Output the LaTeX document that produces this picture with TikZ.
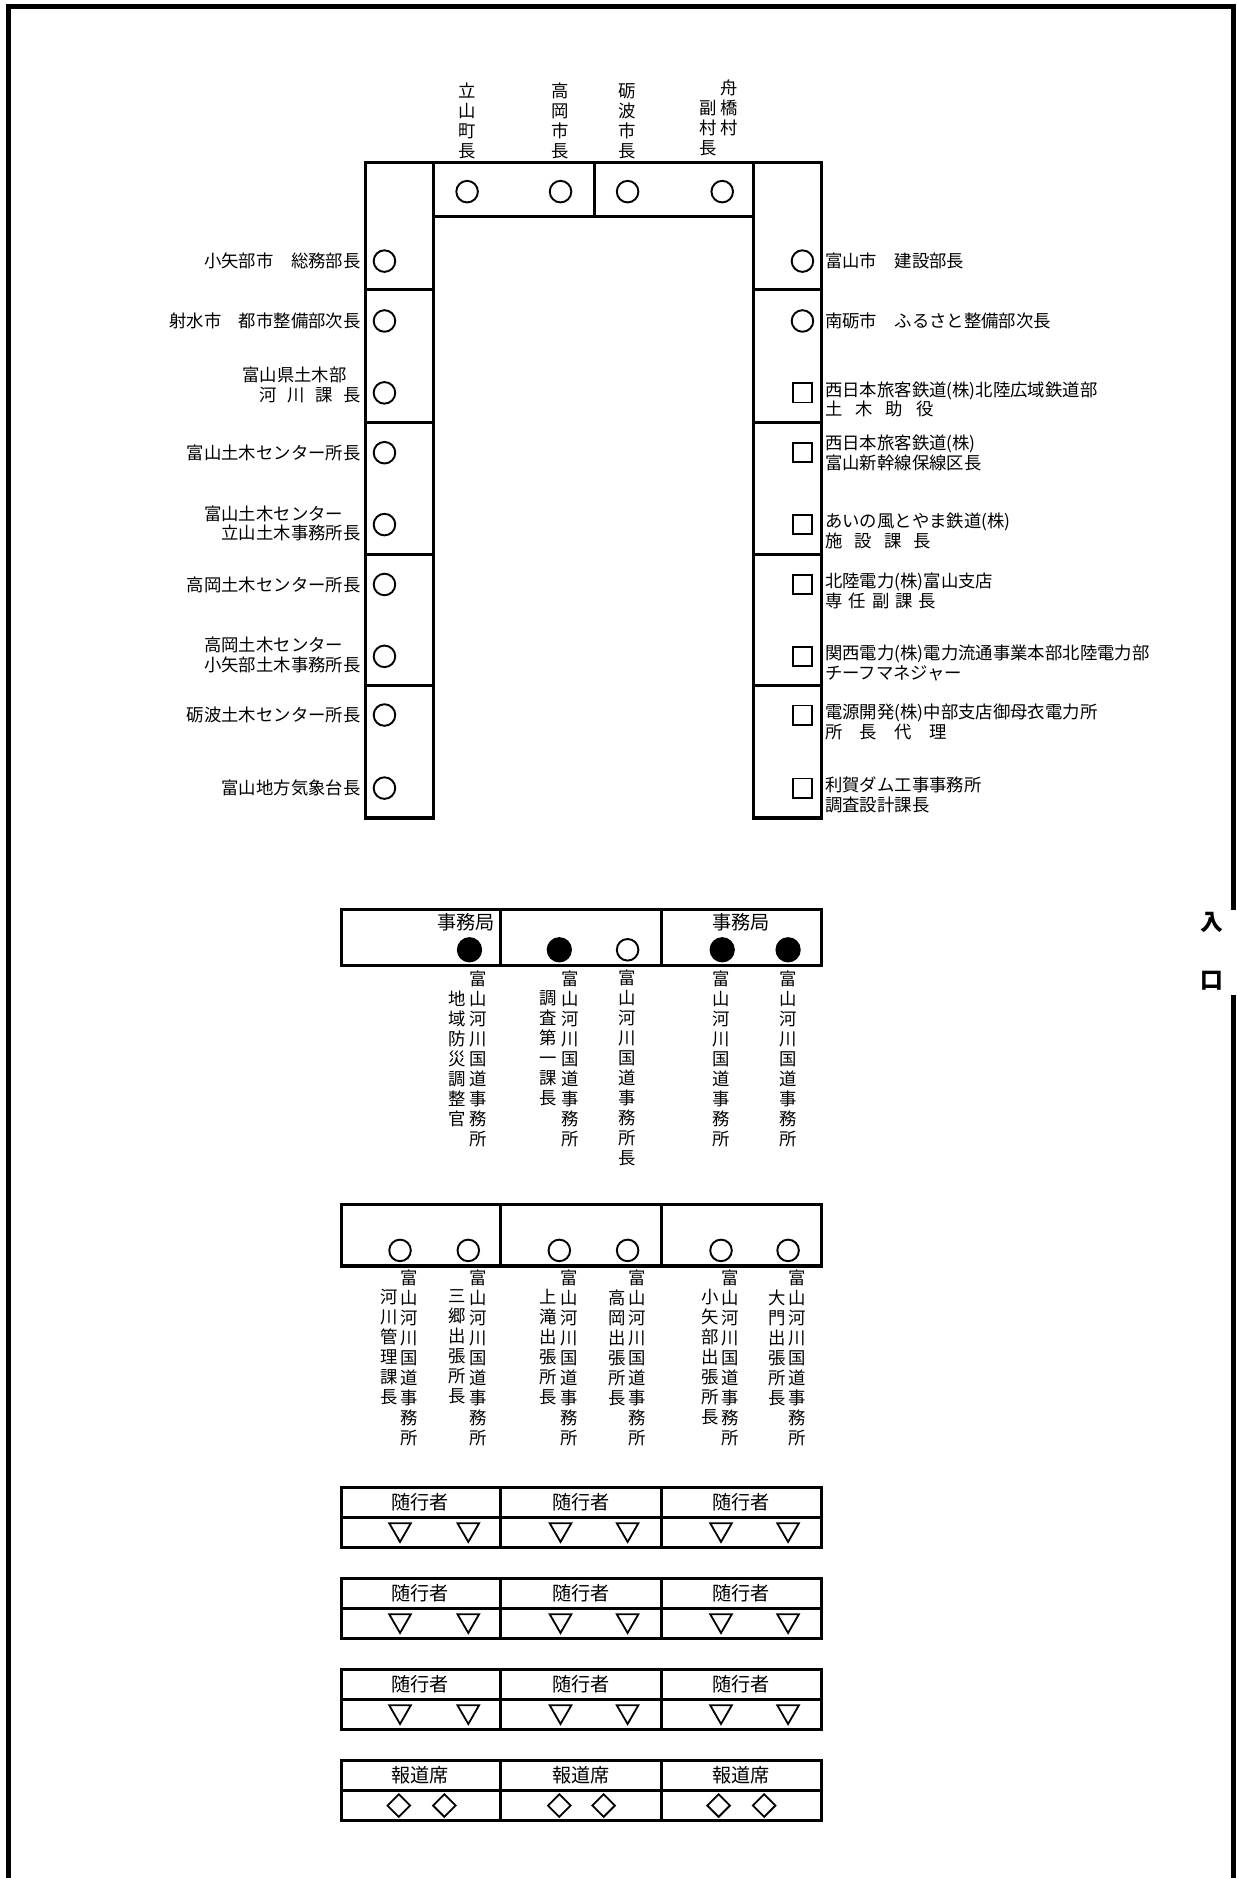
\documentclass[tikz,border=0pt]{standalone}
\usepackage{fontspec}
\setmainfont{Noto Sans CJK JP}
\usetikzlibrary{positioning,shapes.geometric}
\tikzset{
  wall/.style={line width=4.5pt},
  desk/.style={draw, line width=2.6pt},
  seat/.style={draw, circle, line width=1.6pt, minimum size=18pt, inner sep=0pt},
  chief/.style={seat, fill=black, minimum size=19.5pt},
  guest/.style={draw, rectangle, line width=1.5pt, minimum size=16pt, inner sep=0pt},
  aide/.style={draw, regular polygon, regular polygon sides=3, shape border rotate=180, line width=1.5pt, minimum size=20.8pt, inner sep=0pt},
  press/.style={draw, diamond, line width=1.5pt, minimum size=19.5pt, inner sep=0pt},
  lbl/.style={font=\fontsize{14.5}{16.5}\selectfont, inner sep=0pt},
  vlbl/.style={font=\fontsize{14.5}{16.7}\selectfont, inner sep=0pt, align=center, anchor=north},
  hdr/.style={font=\fontsize{16}{18}\selectfont, inner sep=0pt},
}
\newcommand{\jimusho}{富\\山\\河\\川\\国\\道\\事\\務\\所}

\begin{document}
\begin{tikzpicture}[x=1pt, y=-1pt]
\useasboundingbox (0,0) rectangle (1032,1568);
\draw[wall] (7,1568) -- (7,5.5) -- (1030,5.5) -- (1030,760);
\draw[wall] (1030,831) -- (1030,1568);
\node[font=\fontsize{19}{21}\selectfont\bfseries, inner sep=0pt] (iri) at (1012,770) {入};
\node[font=\fontsize{19}{21}\selectfont\bfseries, inner sep=0pt] (guchi) at (1012,819) {口};

\draw[desk] (305,136) rectangle (362,683);
\draw[desk] (629,136) rectangle (686,683);
\draw[desk] (362,136) rectangle (629,181);
\draw[desk] (496,136) -- (496,181);
\foreach \y in {242,353,463,572} {
  \draw[desk] (305,\y) -- (362,\y);
  \draw[desk] (629,\y) -- (686,\y);
}

\node[seat] (t1) at (390,160) {};
\node[seat] (t2) at (468,160) {};
\node[seat] (t3) at (524,160) {};
\node[seat] (t4) at (603,160) {};
\node[vlbl, anchor=south] (nt1) at (390,133) {立\\山\\町\\長};
\node[vlbl, anchor=south] (nt2) at (468,133) {高\\岡\\市\\長};
\node[vlbl, anchor=south] (nt3) at (524,133) {砺\\波\\市\\長};
\node[vlbl, anchor=south] (nt4) at (609,114) {舟\\橋\\村};
\node[vlbl, anchor=south] (nt5) at (591,130.5) {副\\村\\長};

\node[seat] (l1) at (321,218) {};
\node[seat] (l2) at (321,268) {};
\node[seat] (l3) at (321,328) {};
\node[seat] (l4) at (321,378) {};
\node[seat] (l5) at (321,438) {};
\node[seat] (l6) at (321,488) {};
\node[seat] (l7) at (321,548) {};
\node[seat] (l8) at (321,597) {};
\node[seat] (l9) at (321,658) {};
\node[lbl, left=10pt of l1] (nl1) {小矢部市　総務部長};
\node[lbl, left=10pt of l2] (nl2) {射水市　都市整備部次長};
\node[lbl, left=10pt of l3, yshift=6.5pt, align=left] (nl3) {富山県土木部\\\hspace*{1em}河\hspace{0.6em}川\hspace{0.6em}課\hspace{0.6em}長};
\node[lbl, left=10pt of l4] (nl4) {富山土木センター所長};
\node[lbl, left=10pt of l5, yshift=1pt, align=left] (nl5) {富山土木センター\\\hspace*{1em}立山土木事務所長};
\node[lbl, left=10pt of l6] (nl6) {高岡土木センター所長};
\node[lbl, left=10pt of l7, yshift=1pt, align=left] (nl7) {高岡土木センター\\小矢部土木事務所長};
\node[lbl, left=10pt of l8] (nl8) {砺波土木センター所長};
\node[lbl, left=10pt of l9] (nl9) {富山地方気象台長};

\node[seat] (r1) at (670,218) {};
\node[seat] (r2) at (670,268) {};
\node[guest] (r3) at (670,328) {};
\node[guest] (r4) at (670,378) {};
\node[guest] (r5) at (670,438) {};
\node[guest] (r6) at (670,488) {};
\node[guest] (r7) at (670,548) {};
\node[guest] (r8) at (670,597) {};
\node[guest] (r9) at (670,658) {};
\node[lbl, right=9pt of r1] (nr1) {富山市　建設部長};
\node[lbl, right=9pt of r2] (nr2) {南砺市　ふるさと整備部次長};
\node[lbl, right=10pt of r3, yshift=-5.5pt, align=left] (nr3) {西日本旅客鉄道(株)北陸広域鉄道部\\土\hspace{0.75em}木\hspace{0.75em}助\hspace{0.75em}役};
\node[lbl, right=10pt of r4, align=left] (nr4) {西日本旅客鉄道(株)\\富山新幹線保線区長};
\node[lbl, right=10pt of r5, yshift=-5.5pt, align=left] (nr5) {あいの風とやま鉄道(株)\\施\hspace{0.7em}設\hspace{0.7em}課\hspace{0.7em}長};
\node[lbl, right=10pt of r6, yshift=-5.5pt, align=left] (nr6) {北陸電力(株)富山支店\\専\hspace{0.35em}任\hspace{0.35em}副\hspace{0.35em}課\hspace{0.35em}長};
\node[lbl, right=10pt of r7, yshift=-5.5pt, align=left] (nr7) {関西電力(株)電力流通事業本部北陸電力部\\チーフマネジャー};
\node[lbl, right=10pt of r8, yshift=-5.5pt, align=left] (nr8) {電源開発(株)中部支店御母衣電力所\\所\hspace{1em}長\hspace{1em}代\hspace{1em}理};
\node[lbl, right=10pt of r9, yshift=-5.5pt, align=left] (nr9) {利賀ダム工事事務所\\調査設計課長};

\draw[desk] (285,759) rectangle (686,806);
\draw[desk] (418,759) -- (418,806) (552,759) -- (552,806);
\node[hdr] (k1) at (389,770) {事務局};
\node[hdr] (k2) at (619,770) {事務局};
\node[chief] (a1) at (392,793) {};
\node[chief] (a2) at (467,793) {};
\node[seat] (a3) at (524,793) {};
\node[chief] (a4) at (603,793) {};
\node[chief] (a5) at (658,793) {};
\node[vlbl, below=6.5pt of a1, xshift=7pt] (na1) {\jimusho};
\node[vlbl, below=23.2pt of a1, xshift=-10pt] (na1b) {地\\域\\防\\災\\調\\整\\官};
\node[vlbl, below=6.5pt of a2, xshift=9pt] (na2) {\jimusho};
\node[vlbl, below=23.2pt of a2, xshift=-9pt] (na2b) {調\\査\\第\\一\\課\\長};
\node[vlbl, below=6.5pt of a3] (na3) {\jimusho\\長};
\node[vlbl, below=6.5pt of a4, xshift=-1pt] (na4) {\jimusho};
\node[vlbl, below=6.5pt of a5] (na5) {\jimusho};

\draw[desk] (285,1006) rectangle (686,1057);
\draw[desk] (418,1006) -- (418,1057) (552,1006) -- (552,1057);
\node[seat] (b1) at (334,1044) {};
\node[seat] (b2) at (391,1044) {};
\node[seat] (b3) at (467,1044) {};
\node[seat] (b4) at (524,1044) {};
\node[seat] (b5) at (602,1044) {};
\node[seat] (b6) at (658,1044) {};
\foreach \s/\t in {b1/河\\川\\管\\理\\課\\長, b2/三\\郷\\出\\張\\所\\長, b3/上\\滝\\出\\張\\所\\長, b4/高\\岡\\出\\張\\所\\長, b5/小\\矢\\部\\出\\張\\所\\長, b6/大\\門\\出\\張\\所\\長} {
  \node[vlbl, below=6pt of \s, xshift=8pt] (\s o) {\jimusho};
  \node[vlbl, below=22.7pt of \s, xshift=-9pt] (\s n) {\t};
}

\foreach \y [count=\i] in {1242,1318,1394,1470} {
  \draw[desk] (285,\y) rectangle (686,\y+50);
  \draw[desk] (285,\y+25) -- (686,\y+25);
  \draw[desk] (418,\y) -- (418,\y+50) (552,\y) -- (552,\y+50);
}
\foreach \y [count=\i] in {1242,1318,1394} {
  \node[hdr] (z\i-1) at (351,\y+12.5) {随行者};
  \node[hdr] (z\i-2) at (485,\y+12.5) {随行者};
  \node[hdr] (z\i-3) at (619,\y+12.5) {随行者};
  \foreach \x [count=\j] in {334,391,468,524,602,658}
    \node[aide] (s\i-\j) at (\x,\y+35) {};
}
\node[hdr] (h1) at (351,1482.5) {報道席};
\node[hdr] (h2) at (485,1482.5) {報道席};
\node[hdr] (h3) at (619,1482.5) {報道席};
\foreach \x [count=\j] in {333,371,467,504,600,638}
  \node[press] (p\j) at (\x,1507.5) {};
\end{tikzpicture}
\end{document}
